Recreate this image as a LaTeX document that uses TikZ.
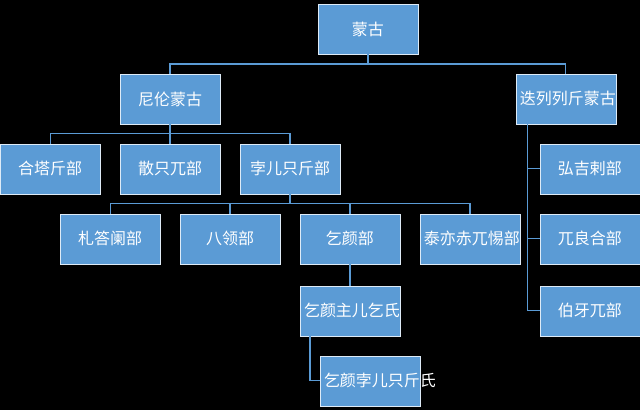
\documentclass[tikz,border=0pt]{standalone}
\usepackage{fontspec}
\newfontfamily\cjk{Noto Sans CJK SC}
\definecolor{BoxBlue}{RGB}{91, 155, 213}
\definecolor{EdgeBlue}{RGB}{65, 113, 156}
\usetikzlibrary{positioning}
\begin{document}
\begin{tikzpicture}[
        x=1pt, y=-1pt,
        box/.style={rectangle, draw=white!80!BoxBlue, fill=BoxBlue, text=white, minimum width=100pt, minimum height=50pt, text width=92pt, align=center, inner sep=1pt, font=\cjk\fontsize{16}{19}\selectfont},
        line/.style={draw=BoxBlue, line width=1.2pt}
    ]
        \fill[black] (0,0) rectangle (640,410);
        \node [box] (mg) at (368,29) {蒙古};
        \node [box] (nl) at (170,99) {尼伦蒙古};
        \node [box] (dl) at (566,99) {迭列列斤蒙古};
        \node [box] (ht) at (50,169) {合塔斤部};
        \node [box] (sz) at (170,169) {散只兀部};
        \node [box] (be) at (290,169) {孛儿只斤部};
        \node [box] (hj) at (590,169) {弘吉剌部};
        \node [box] (zd) at (110,239) {札答阑部};
        \node [box] (bl) at (230,239) {八领部};
        \node [box] (qy) at (350,239) {乞颜部};
        \node [box] (ty) at (470,239) {泰亦赤兀惕部};
        \node [box] (wl) at (590,239) {兀良合部};
        \node [box] (zr) at (350,311) {乞颜主儿乞氏};
        \node [box] (by) at (590,311) {伯牙兀部};
        \node [box] (qb) at (370,381) {乞颜孛儿只斤氏};

        \path [line] (mg.south) |- (170,64) -| (nl.north);
        \path [line] (mg.south) |- (566,64) -| (dl.north);
        \foreach \c in {ht, sz, be}
            \path [line] (nl.south) |- ([yshift=10pt]\c.north) -- (\c.north);
        \foreach \c in {zd, bl, qy, ty}
            \path [line] (be.south) |- ([yshift=10pt]\c.north) -- (\c.north);
        \foreach \c in {hj, wl, by}
            \path [line] ([xshift=-38pt]dl.south) |- (\c.west);
        \path [line] (qy) -- (zr);
        \path [line] ([xshift=-40pt]zr.south) |- (qb.west);
    \end{tikzpicture}
\end{document}
